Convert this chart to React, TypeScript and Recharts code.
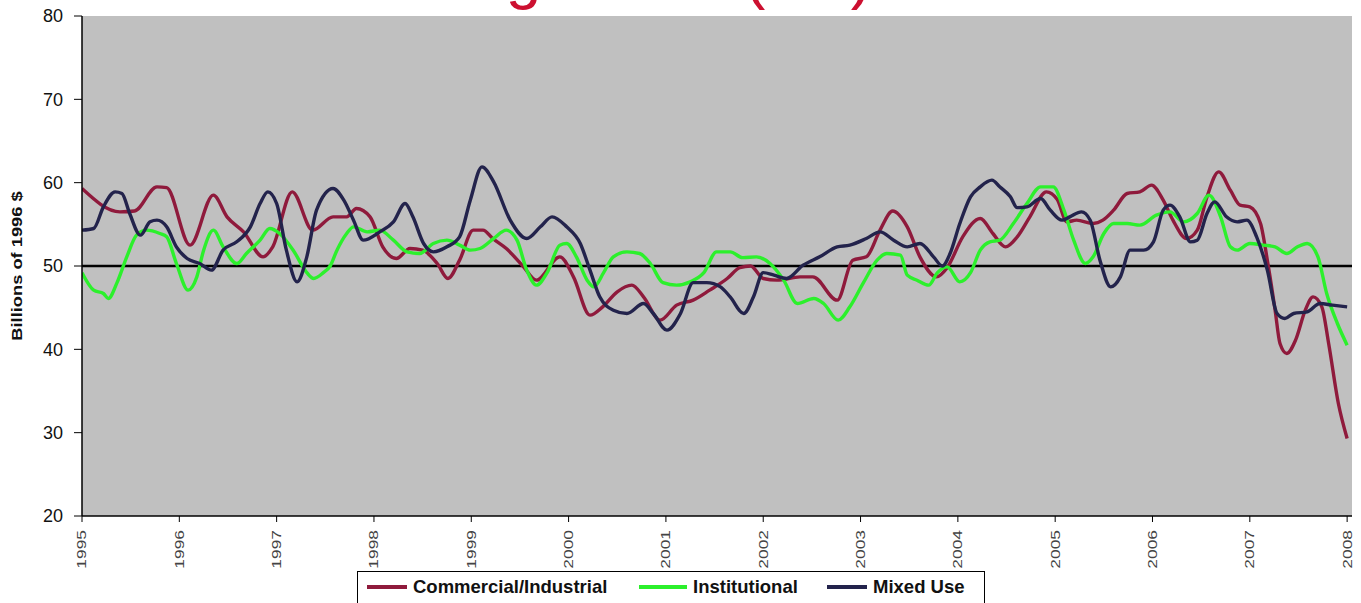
import React from 'react'
import { LineChart, Line, XAxis, YAxis, CartesianGrid, ReferenceLine } from 'recharts'

// [year, billions of 1996 $] read at turning points
const commercial: [number, number][] = [
  [1995.0, 59.3], [1995.39, 56.5], [1995.54, 56.6], [1995.77, 59.5], [1995.87, 59.4], [1996.11, 52.5],
  [1996.35, 58.5], [1996.49, 55.9], [1996.66, 54.1], [1996.86, 51.1], [1996.96, 52.3], [1997.16, 58.9],
  [1997.37, 54.3], [1997.58, 55.9], [1997.72, 55.9], [1997.82, 56.9], [1997.96, 55.9], [1998.09, 52.3],
  [1998.23, 50.9], [1998.37, 52.1], [1998.5, 51.9], [1998.65, 50.3], [1998.76, 48.5], [1998.88, 50.7],
  [1999.02, 54.3], [1999.12, 54.3], [1999.22, 53.3], [1999.36, 52.1], [1999.53, 50.0], [1999.67, 48.3],
  [1999.91, 51.1], [2000.05, 48.7], [2000.22, 44.1], [2000.35, 45.1], [2000.5, 46.9], [2000.65, 47.7],
  [2000.77, 46.3], [2000.94, 43.5], [2001.11, 45.3], [2001.28, 45.9], [2001.45, 47.1], [2001.63, 48.5],
  [2001.76, 49.8], [2001.87, 50.0], [2002.0, 48.5], [2002.14, 48.3], [2002.38, 48.7], [2002.51, 48.7],
  [2002.76, 45.9], [2002.92, 50.7], [2003.06, 51.1], [2003.2, 54.3], [2003.33, 56.6], [2003.48, 54.7],
  [2003.61, 51.1], [2003.78, 48.7], [2003.89, 49.8], [2004.05, 53.5], [2004.23, 55.7], [2004.36, 53.9],
  [2004.49, 52.3], [2004.61, 53.5], [2004.74, 55.9], [2004.91, 58.9], [2005.02, 58.0], [2005.12, 55.3],
  [2005.22, 55.5], [2005.39, 55.1], [2005.49, 55.5], [2005.6, 56.7], [2005.74, 58.7], [2005.87, 58.9],
  [2005.99, 59.7], [2006.11, 57.9], [2006.21, 55.5], [2006.35, 53.3], [2006.46, 54.3], [2006.56, 58.3],
  [2006.68, 61.3], [2006.8, 59.1], [2006.9, 57.3], [2007.0, 57.1], [2007.11, 55.1], [2007.18, 50.7],
  [2007.26, 44.7], [2007.31, 40.7], [2007.38, 39.5], [2007.47, 41.1], [2007.57, 44.7], [2007.65, 46.3],
  [2007.74, 45.1], [2007.81, 40.7], [2007.91, 33.5], [2008.0, 29.3],
]

const institutional: [number, number][] = [
  [1995.0, 49.2], [1995.12, 47.1], [1995.22, 46.7], [1995.27, 46.1], [1995.36, 48.0], [1995.46, 51.1],
  [1995.56, 53.7], [1995.66, 54.3], [1995.8, 53.9], [1995.87, 53.5], [1995.97, 50.3], [1996.09, 47.1],
  [1996.18, 48.7], [1996.25, 51.9], [1996.35, 54.3], [1996.45, 52.3], [1996.59, 50.3], [1996.69, 51.5],
  [1996.83, 53.1], [1996.93, 54.5], [1997.03, 53.9], [1997.17, 51.9], [1997.31, 49.2], [1997.38, 48.5],
  [1997.48, 49.2], [1997.55, 50.0], [1997.62, 51.9], [1997.72, 53.9], [1997.79, 54.7], [1997.93, 54.1],
  [1998.06, 54.3], [1998.2, 53.1], [1998.34, 51.7], [1998.47, 51.5], [1998.61, 52.7], [1998.75, 53.1],
  [1998.88, 52.5], [1998.99, 51.9], [1999.09, 52.1], [1999.23, 53.3], [1999.36, 54.3], [1999.47, 53.1],
  [1999.57, 49.5], [1999.67, 47.7], [1999.78, 49.2], [1999.91, 52.5], [1999.98, 52.7], [2000.08, 51.1],
  [2000.19, 48.3], [2000.26, 47.5], [2000.36, 49.2], [2000.46, 51.1], [2000.6, 51.7], [2000.73, 51.5],
  [2000.84, 50.3], [2000.97, 48.0], [2001.11, 47.7], [2001.25, 48.1], [2001.39, 49.2], [2001.52, 51.7],
  [2001.66, 51.7], [2001.79, 51.0], [2001.93, 51.1], [2002.07, 50.3], [2002.21, 48.3], [2002.35, 45.5],
  [2002.52, 46.1], [2002.62, 45.5], [2002.77, 43.5], [2002.89, 45.1], [2003.03, 48.0], [2003.17, 50.7],
  [2003.27, 51.5], [2003.41, 51.3], [2003.48, 48.9], [2003.58, 48.3], [2003.7, 47.7], [2003.79, 49.2],
  [2003.89, 49.9], [2004.02, 48.1], [2004.13, 49.2], [2004.23, 51.9], [2004.33, 52.9], [2004.43, 53.1],
  [2004.57, 55.1], [2004.71, 57.5], [2004.85, 59.5], [2004.98, 59.5], [2005.09, 56.7], [2005.19, 53.1],
  [2005.31, 50.3], [2005.39, 51.1], [2005.5, 53.9], [2005.6, 55.1], [2005.74, 55.1], [2005.87, 54.9],
  [2006.04, 56.1], [2006.18, 56.5], [2006.32, 55.3], [2006.46, 56.3], [2006.58, 58.5], [2006.7, 55.9],
  [2006.8, 52.3], [2006.87, 51.9], [2007.0, 52.7], [2007.14, 52.5], [2007.26, 52.3], [2007.38, 51.5],
  [2007.49, 52.3], [2007.59, 52.7], [2007.7, 51.1], [2007.79, 46.7], [2007.9, 43.1], [2008.0, 40.5],
]

const mixedUse: [number, number][] = [
  [1995.0, 54.3], [1995.12, 54.5], [1995.22, 57.1], [1995.34, 58.9], [1995.41, 58.7], [1995.49, 56.3],
  [1995.6, 53.7], [1995.7, 55.3], [1995.77, 55.5], [1995.87, 54.7], [1995.97, 52.3], [1996.08, 50.9],
  [1996.21, 50.3], [1996.33, 49.5], [1996.45, 51.9], [1996.59, 52.9], [1996.73, 54.7], [1996.83, 57.5],
  [1996.91, 58.9], [1997.0, 57.5], [1997.1, 51.9], [1997.21, 48.1], [1997.31, 51.1], [1997.41, 56.7],
  [1997.58, 59.3], [1997.69, 57.9], [1997.79, 55.5], [1997.89, 53.1], [1998.06, 54.1], [1998.2, 55.3],
  [1998.32, 57.5], [1998.4, 55.9], [1998.51, 52.7], [1998.61, 51.7], [1998.75, 52.3], [1998.88, 53.5],
  [1998.99, 57.9], [1999.11, 61.9], [1999.23, 60.1], [1999.4, 55.5], [1999.57, 53.3], [1999.71, 54.7],
  [1999.83, 55.9], [1999.98, 54.7], [2000.12, 52.7], [2000.22, 49.5], [2000.32, 46.3], [2000.46, 44.7],
  [2000.6, 44.3], [2000.77, 45.5], [2000.87, 44.3], [2001.01, 42.3], [2001.15, 44.3], [2001.28, 48.0],
  [2001.42, 48.0], [2001.56, 47.5], [2001.66, 46.3], [2001.8, 44.3], [2001.9, 46.3], [2002.0, 49.2],
  [2002.11, 48.9], [2002.24, 48.5], [2002.41, 50.1], [2002.58, 51.1], [2002.76, 52.3], [2002.89, 52.5],
  [2003.06, 53.3], [2003.2, 54.1], [2003.34, 53.1], [2003.48, 52.3], [2003.61, 52.7], [2003.75, 51.1],
  [2003.84, 50.0], [2003.92, 51.5], [2004.02, 55.1], [2004.13, 58.3], [2004.23, 59.5], [2004.35, 60.3],
  [2004.43, 59.5], [2004.54, 58.3], [2004.61, 57.0], [2004.71, 57.1], [2004.85, 58.1], [2004.95, 56.7],
  [2005.07, 55.5], [2005.15, 55.9], [2005.27, 56.5], [2005.36, 55.5], [2005.46, 50.7], [2005.57, 47.5],
  [2005.67, 48.7], [2005.77, 51.9], [2005.91, 51.9], [2006.01, 52.9], [2006.11, 56.7], [2006.18, 57.3],
  [2006.28, 55.9], [2006.39, 52.9], [2006.46, 53.1], [2006.56, 56.3], [2006.64, 57.7], [2006.76, 55.9],
  [2006.87, 55.3], [2006.97, 55.5], [2007.07, 53.5], [2007.18, 49.5], [2007.28, 44.3], [2007.36, 43.7],
  [2007.45, 44.3], [2007.59, 44.5], [2007.72, 45.5], [2007.85, 45.3], [2008.0, 45.1],
]

const years = [1995, 1996, 1997, 1998, 1999, 2000, 2001, 2002, 2003, 2004, 2005, 2006, 2007, 2008]
const yTicks = [20, 30, 40, 50, 60, 70, 80]

const series = [
  { name: 'Commercial/Industrial', points: commercial, color: '#8f1a3c' },
  { name: 'Institutional', points: institutional, color: '#2cf02c' },
  { name: 'Mixed Use', points: mixedUse, color: '#23234c' },
]

// legend item placement inside the box (x of swatch start, swatch width)
const legendSlots = [
  { left: 9, swatch: 40 },
  { left: 281, swatch: 48 },
  { left: 469, swatch: 40 },
]

const FONT = '"Liberation Sans", Arial, sans-serif'

const YearTick = (props: any) => {
  const { x, y, payload } = props
  return (
    <text
      transform={`translate(${x},${y + 6}) rotate(-90) scale(1.45,1)`}
      textAnchor="end"
      dominantBaseline="central"
      fontSize={12}
      fill="#444"
      fontFamily={FONT}
    >
      {payload.value}
    </text>
  )
}

const YTitle = (props: any) => {
  const { viewBox } = props
  const cy = viewBox.y + viewBox.height / 2
  return (
    <text
      transform={`translate(17,${cy}) rotate(-90) scale(1.22,1)`}
      textAnchor="middle"
      dominantBaseline="central"
      fontSize={15}
      fontWeight="bold"
      fill="#111"
      fontFamily={FONT}
    >
      Billions of 1996 $
    </text>
  )
}

const App: React.FC = () => {
  return (
    <div style={{ position: 'absolute', top: 0, left: 0, width: 1361, height: 603, background: '#fff', overflow: 'hidden', fontFamily: FONT }}>
      <LineChart width={1361} height={603} margin={{ top: 16, right: 9, bottom: 37, left: 22 }}>
        <CartesianGrid fill="#c0c0c0" horizontal={false} vertical={false} stroke="none" />
        <XAxis
          type="number"
          dataKey="t"
          domain={[1995, 2008.05]}
          ticks={years}
          allowDataOverflow
          height={50}
          tick={<YearTick />}
          tickSize={6}
          tickLine={{ stroke: '#000' }}
          axisLine={{ stroke: '#000', strokeWidth: 1.5 }}
          interval={0}
        />
        <YAxis
          type="number"
          domain={[20, 80]}
          ticks={yTicks}
          width={60}
          tickSize={8}
          tickMargin={11}
          tick={{ fontSize: 18, fill: '#111', fontFamily: FONT }}
          tickLine={{ stroke: '#000' }}
          axisLine={{ stroke: '#000', strokeWidth: 1.5 }}
          label={<YTitle />}
        />
        <ReferenceLine y={50} stroke="#000" strokeWidth={2.5} />
        {series.map((s) => (
          <Line
            key={s.name}
            data={s.points.map(([t, v]) => ({ t, v }))}
            dataKey="v"
            name={s.name}
            type="monotone"
            stroke={s.color}
            strokeWidth={3.4}
            dot={false}
            isAnimationActive={false}
          />
        ))}
      </LineChart>

      <svg width={1361} height={30} style={{ position: 'absolute', top: 0, left: 0, pointerEvents: 'none' }}>
        <text x={872} y={-3} textAnchor="end" fontSize={64} fill="#cc1030" fontFamily={FONT}>
          Nonresidential Building Starts (SA)
        </text>
      </svg>

      <div
        style={{
          position: 'absolute',
          left: 357,
          top: 571,
          width: 628,
          height: 40,
          border: '1px solid #000',
          background: '#fff',
          boxSizing: 'border-box',
          fontSize: 18.5,
          fontWeight: 'bold',
          color: '#111',
          whiteSpace: 'nowrap',
        }}
      >
        {series.map((s, i) => (
          <div
            key={s.name}
            style={{ position: 'absolute', left: legendSlots[i].left, top: 4, display: 'flex', alignItems: 'center' }}
          >
            <div style={{ width: legendSlots[i].swatch, height: 4, background: s.color, marginRight: 6 }} />
            <span>{s.name}</span>
          </div>
        ))}
      </div>
    </div>
  )
}

export default App
